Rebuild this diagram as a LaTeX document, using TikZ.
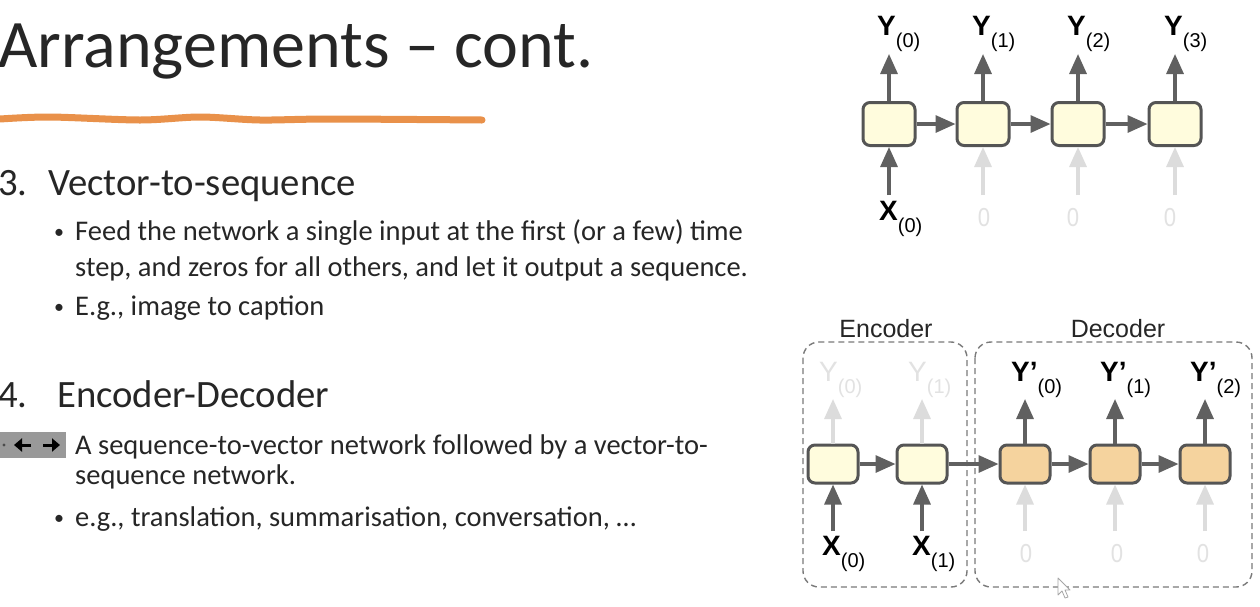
\documentclass[tikz,border=0pt]{standalone}
\usepackage{fontspec}
\setmainfont{Carlito}
\newfontfamily\arialf{Liberation Sans}
\usetikzlibrary{arrows.meta}
\definecolor{boxgray}{HTML}{555555}
\definecolor{arrgray}{HTML}{606060}
\definecolor{fadegray}{HTML}{DCDCDC}
\definecolor{fadetext}{HTML}{E2E2E2}
\definecolor{cellyellow}{HTML}{FFFCDD}
\definecolor{cellorange}{HTML}{F5D39E}
\definecolor{lineorange}{HTML}{E9914A}
\definecolor{dashgray}{HTML}{7A7A7A}
\newcommand{\lab}[2]{{\arialf\fontsize{28}{28}\selectfont\textbf{#1}\raisebox{-12pt}{\fontsize{20}{20}\selectfont(#2)}}}
\newcommand{\flab}[2]{{\arialf\fontsize{28}{28}\selectfont #1\raisebox{-12pt}{\fontsize{20}{20}\selectfont(#2)}}}
\begin{document}
\begin{tikzpicture}[x=1pt,y=-1pt,
  cellA/.style={draw=boxgray, line width=3pt, rounded corners=7pt, minimum width=52pt, minimum height=43pt, fill=cellyellow, inner sep=0},
  cellB/.style={draw=boxgray, line width=3pt, rounded corners=7pt, minimum width=50pt, minimum height=38pt, inner sep=0},
  arr/.style={draw=arrgray, line width=3.2pt, -{Triangle[length=20pt,width=17pt]}},
  farr/.style={draw=fadegray, line width=3.2pt, -{Triangle[length=20pt,width=17pt]}},
  lbl/.style={inner sep=0, anchor=base west},
  zero/.style={inner sep=0, text=fadetext, font=\arialf\fontsize{26}{26}\selectfont, xscale=0.85},
  body/.style={inner sep=0, anchor=base west, font=\fontsize{28.5}{28.5}\selectfont, text=black!85},
  dot/.style={inner sep=0, anchor=base west, font=\fontsize{20}{20}\selectfont, text=black!85},
  head/.style={inner sep=0, anchor=base west, font=\fontsize{38.7}{38.7}\selectfont, text=black!85},
  grp/.style={draw=dashgray, line width=1.4pt, dash pattern=on 6pt off 4pt, rounded corners=16pt},
  grplbl/.style={inner sep=0, anchor=base, font=\arialf\fontsize{25}{25}\selectfont, text=black!85}
]
\useasboundingbox (0,0) rectangle (1260,606);
\fill[white] (0,0) rectangle (1260,606);

% ---------- title ----------
\node[inner sep=0, anchor=base west, font=\fontsize{68}{68}\selectfont, text=black!85] (title) at (-2,67) {Arrangements – cont.};
\draw[lineorange, line width=7pt, line cap=round] plot[smooth] coordinates {(0,119) (50,117) (140,120) (200,117) (260,120) (330,119) (482,120)};

% ---------- left text ----------
\node[head] (h3n) at (-2,195) {3.};
\node[head] (h3) at (48,195) {Vector-to-sequence};
\node[dot] (b1d) at (54,238) {•};
\node[body] (b1) at (75,240) {Feed the network a single input at the first (or a few) time};
\node[body] (b1b) at (75,276) {step, and zeros for all others, and let it output a sequence.};
\node[dot] (b2d) at (54,313) {•};
\node[body] (b2) at (75,315) {E.g., image to caption};

\node[head] (h4n) at (-2,407) {4.};
\node[head] (h4) at (57,407) {Encoder-Decoder};
\node[body] (b3) at (75,454) {A sequence-to-vector network followed by a vector-to-};
\node[body] (b3b) at (75,484) {sequence network.};
\node[dot] (b4d) at (54,524) {•};
\node[body] (b4) at (75,526) {e.g., translation, summarisation, conversation, …};

% small navigation widget
\fill[gray!80] (0,432) rectangle (66,458);
\fill[black!70] (4,445) circle (1.6pt);
\draw[black, line width=3pt, -{Triangle[length=8pt,width=13pt]}] (31,445) -- (14,445);
\draw[black, line width=3pt, -{Triangle[length=8pt,width=13pt]}] (43,445) -- (60,445);

% ---------- top diagram: vector-to-sequence ----------
\foreach \i/\x in {0/889,1/983,2/1078,3/1175}{
  \node[cellA] (t\i) at (\x,124) {};
  \coordinate (ty\i) at (\x,54);
  \coordinate (tx\i) at (\x,195);
}
\foreach \a/\b in {0/1,1/2,2/3}{ \draw[arr] (t\a.east) -- (t\b.west); }
\foreach \i in {0,1,2,3}{ \draw[arr] (t\i.north) -- (ty\i); }
\draw[arr] (tx0) -- (t0.south);
\foreach \i in {1,2,3}{ \draw[farr] (tx\i) -- (t\i.south); }

\node[lbl] (tY0) at (877,35) {\lab{Y}{0}};
\node[lbl] (tY1) at (972,35) {\lab{Y}{1}};
\node[lbl] (tY2) at (1067,35) {\lab{Y}{2}};
\node[lbl] (tY3) at (1164,35) {\lab{Y}{3}};
\node[lbl] (tX0) at (879,220) {\lab{X}{0}};
\node[zero] (tz1) at (984,218) {0};
\node[zero] (tz2) at (1073,218) {0};
\node[zero] (tz3) at (1170,218) {0};

% ---------- bottom diagram: encoder-decoder ----------
\draw[grp] (803,342) rectangle (967,587);
\draw[grp] (975,342) rectangle (1252,587);
\node[grplbl] (enc) at (886,337) {Encoder};
\node[grplbl] (dec) at (1118,337) {Decoder};

\node[cellB, fill=cellyellow] (e0) at (833,464) {};
\node[cellB, fill=cellyellow] (e1) at (922,464) {};
\node[cellB, fill=cellorange] (d0) at (1025,464) {};
\node[cellB, fill=cellorange] (d1) at (1115,464) {};
\node[cellB, fill=cellorange] (d2) at (1205,464) {};

\draw[arr] (e0.east) -- (e1.west);
\draw[arr] (e1.east) -- (d0.west);
\draw[arr] (d0.east) -- (d1.west);
\draw[arr] (d1.east) -- (d2.west);

\foreach \n/\x in {e0/833,e1/922,d0/1025,d1/1115,d2/1205}{
  \coordinate (\n y) at (\x,399);
  \coordinate (\n x) at (\x,531);
}
\draw[farr] (e0.north) -- (e0y);
\draw[farr] (e1.north) -- (e1y);
\draw[arr] (d0.north) -- (d0y);
\draw[arr] (d1.north) -- (d1y);
\draw[arr] (d2.north) -- (d2y);
\draw[arr] (e0x) -- (e0.south);
\draw[arr] (e1x) -- (e1.south);
\draw[farr] (d0x) -- (d0.south);
\draw[farr] (d1x) -- (d1.south);
\draw[farr] (d2x) -- (d2.south);

\node[lbl, text=fadetext] (eY0) at (819,381) {\flab{Y}{0}};
\node[lbl, text=fadetext] (eY1) at (908,381) {\flab{Y}{1}};
\node[lbl] (dY0) at (1011,381) {\lab{Y’}{0}};
\node[lbl] (dY1) at (1100,381) {\lab{Y’}{1}};
\node[lbl] (dY2) at (1190,381) {\lab{Y’}{2}};
\node[lbl] (eX0) at (822,555) {\lab{X}{0}};
\node[lbl] (eX1) at (912,555) {\lab{X}{1}};
\node[zero] (dz0) at (1026,554) {0};
\node[zero] (dz1) at (1117,554) {0};
\node[zero] (dz2) at (1203,554) {0};

% mouse cursor
\draw[gray!70, fill=white, line width=0.8pt, line join=round] (1058,578) -- (1058,595) -- (1062,591) -- (1065,598) -- (1068,597) -- (1065,590) -- (1070,590) -- cycle;
\end{tikzpicture}
\end{document}
